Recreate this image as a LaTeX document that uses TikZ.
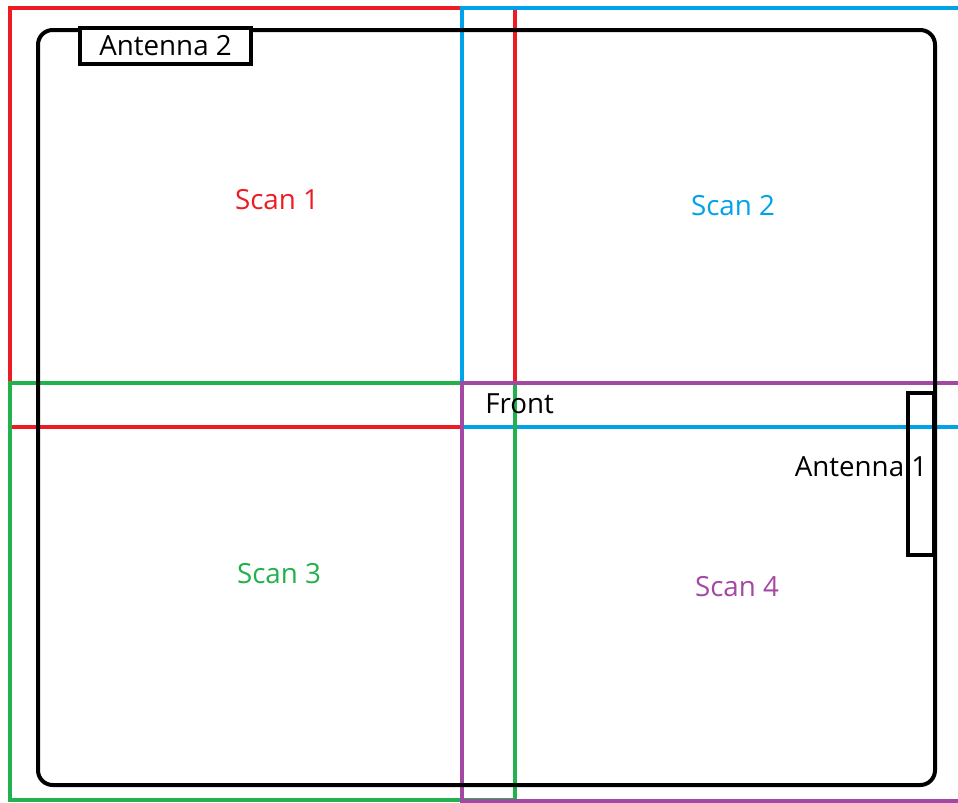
\documentclass[tikz,border=0pt]{standalone}
\usepackage{fontspec}
\setmainfont{Open Sans}

\definecolor{scanred}{RGB}{237,28,36}
\definecolor{scanblue}{RGB}{0,162,232}
\definecolor{scangreen}{RGB}{34,177,76}
\definecolor{scanpurple}{RGB}{163,73,164}

\tikzset{
    scanarea/.style={line width=2.6pt},
    scanlabel/.style={font=\fontsize{20.8}{24}\selectfont, inner sep=0pt},
    antbox/.style={draw, line width=2.6pt, inner sep=0pt},
}

\begin{document}
\begin{tikzpicture}[x=0.75pt, y=-0.75pt]

    \clip (0,0) rectangle (958,803);

    %% Scan areas
    \draw[scanarea, scanred] (10,8) rectangle (515,427);
    \draw[scanarea, scanblue] (462,8) rectangle (975,427);
    \draw[scanarea, scangreen] (10,383) rectangle (515,800);
    \draw[scanarea, scanpurple] (462,383) rectangle (975,801);

    % Outline of the object
    \draw[line width=3pt, rounded corners=11pt] (38,30) rectangle (935,785);

    % Antennas
    \node[antbox, scanlabel, minimum width=128.25pt, minimum height=27pt, fill=white] (ant2) at (165.5,46) {Antenna 2};
    \node[antbox, minimum width=19.5pt, minimum height=121.5pt] (ant1box) at (921,474) {};
    \node[scanlabel] (ant1) at (861,467) {Antenna 1};

    % Labels
    \node[scanlabel, text=scanred] (scan1) at (277,200) {Scan 1};
    \node[scanlabel, text=scanblue] (scan2) at (733,206) {Scan 2};
    \node[scanlabel, text=scangreen] (scan3) at (279,574) {Scan 3};
    \node[scanlabel, text=scanpurple] (scan4) at (737,587) {Scan 4};
    \node[scanlabel, anchor=west] (front) at (485,404) {Front};

\end{tikzpicture}
\end{document}
